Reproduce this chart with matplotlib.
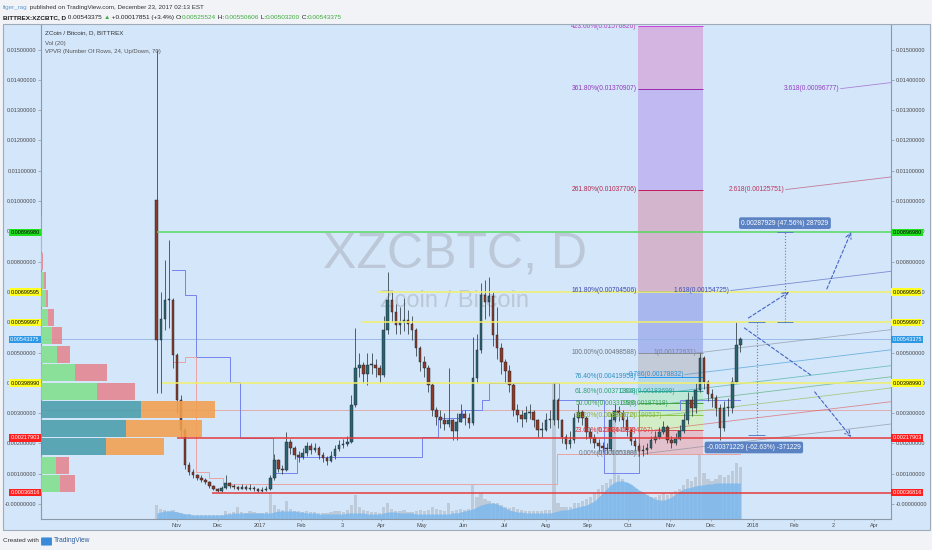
import numpy as np
import pandas as pd
import matplotlib
matplotlib.use('Agg')
import matplotlib.pyplot as plt
import matplotlib.dates as mdates
from matplotlib.patches import Rectangle, FancyBboxPatch

plt.rcParams['font.family'] = ['Liberation Sans', 'DejaVu Sans']

# ------------------------------------------------------------------ data
candle_start = '2016-10-17'
candle_step = '3D'
first_open_e5 = 1003
close_e5 = [
    541, 610, 673, 673, 492, 343, 244, 129, 106, 96,
    86, 79, 73, 59, 50, 43, 53, 69, 59, 56,
    50, 56, 50, 53, 50, 43, 46, 50, 86, 145,
    116, 112, 205, 185, 162, 155, 168, 191, 178, 185,
    162, 152, 142, 158, 182, 195, 198, 205, 327, 449,
    459, 429, 459, 459, 449, 426, 574, 673, 634, 591,
    601, 607, 594, 574, 515, 469, 449, 393, 310, 287,
    277, 264, 277, 241, 271, 297, 284, 267, 416, 508,
    690, 667, 686, 558, 515, 469, 439, 393, 310, 294,
    281, 300, 304, 277, 244, 244, 277, 277, 343, 277,
    221, 198, 211, 284, 304, 284, 238, 218, 201, 191,
    185, 182, 277, 307, 300, 277, 244, 208, 191, 175,
    178, 185, 211, 221, 238, 254, 211, 201, 215, 241,
    277, 343, 317, 376, 482, 403, 363, 350, 317, 251,
    317, 317, 403, 525, 543]
high_e5 = [
    1498, 700, 805, 871, 680, 500, 360, 250, 140, 115,
    100, 95, 85, 75, 62, 52, 58, 95, 72, 66,
    60, 65, 62, 65, 60, 52, 55, 58, 95, 165,
    150, 130, 238, 215, 190, 175, 185, 205, 200, 200,
    190, 170, 160, 175, 195, 210, 215, 225, 360, 581,
    500, 470, 500, 500, 480, 460, 620, 765, 700, 660,
    650, 680, 640, 620, 580, 520, 490, 460, 400, 320,
    310, 300, 449, 280, 300, 330, 310, 300, 550, 560,
    730, 740, 749, 700, 650, 530, 480, 460, 400, 330,
    310, 325, 330, 310, 280, 270, 300, 310, 403, 350,
    280, 230, 240, 300, 330, 310, 290, 250, 230, 215,
    205, 200, 300, 330, 325, 310, 290, 250, 220, 200,
    195, 200, 225, 240, 255, 275, 260, 225, 235, 260,
    300, 370, 355, 400, 500, 490, 410, 380, 360, 330,
    340, 350, 420, 600, 551]
low_e5 = [
    366, 366, 574, 580, 450, 300, 220, 115, 95, 85,
    78, 72, 66, 52, 45, 38, 40, 50, 52, 50,
    45, 48, 45, 46, 44, 38, 40, 42, 45, 80,
    105, 100, 110, 165, 150, 140, 150, 160, 165, 170,
    150, 140, 130, 140, 150, 175, 185, 190, 200, 320,
    420, 400, 393, 430, 420, 400, 420, 560, 600, 560,
    560, 570, 560, 540, 490, 440, 420, 370, 290, 260,
    250, 245, 255, 210, 210, 270, 260, 250, 260, 400,
    500, 610, 620, 520, 480, 430, 400, 370, 290, 270,
    255, 270, 280, 255, 220, 220, 240, 250, 260, 250,
    200, 180, 185, 200, 270, 260, 215, 200, 185, 175,
    170, 165, 175, 270, 275, 255, 225, 195, 175, 160,
    160, 165, 180, 200, 215, 230, 200, 185, 195, 210,
    235, 265, 290, 300, 370, 380, 340, 320, 290, 212,
    240, 290, 300, 400, 503]
vol = [
    14, 10, 9, 8, 9, 7, 6, 5, 5, 4,
    4, 4, 4, 4, 4, 4, 4, 8, 6, 7,
    12, 7, 6, 8, 7, 6, 6, 7, 26, 14,
    10, 9, 18, 10, 8, 8, 7, 8, 7, 7,
    6, 6, 6, 7, 8, 8, 7, 9, 14, 24,
    12, 9, 8, 7, 7, 6, 12, 16, 10, 8,
    8, 9, 7, 7, 8, 9, 8, 9, 12, 10,
    9, 8, 16, 8, 9, 10, 9, 10, 34, 22,
    26, 20, 18, 16, 16, 14, 12, 11, 12, 10,
    9, 8, 8, 8, 8, 8, 9, 9, 136, 16,
    12, 12, 12, 16, 16, 18, 20, 22, 26, 30,
    34, 36, 40, 109, 44, 40, 36, 34, 30, 28,
    26, 24, 22, 22, 24, 26, 24, 26, 28, 30,
    34, 40, 38, 42, 159, 46, 40, 38, 40, 44,
    42, 44, 48, 56, 52]
vol_ma = [
    6, 7, 8, 8, 8, 7, 6, 5, 5, 4,
    4, 4, 4, 4, 4, 4, 4, 5, 5, 6,
    6, 6, 6, 6, 6, 6, 6, 6, 6, 7,
    8, 8, 8, 8, 8, 7, 7, 6, 6, 6,
    5, 5, 5, 5, 5, 5, 5, 6, 6, 6,
    6, 6, 5, 5, 5, 5, 6, 7, 7, 7,
    6, 6, 6, 6, 5, 5, 5, 5, 5, 5,
    5, 5, 5, 6, 6, 7, 8, 9, 10, 12,
    14, 15, 16, 16, 15, 13, 11, 9, 8, 7,
    7, 6, 6, 6, 6, 6, 6, 6, 7, 8,
    9, 9, 10, 11, 12, 13, 14, 16, 18, 22,
    26, 30, 34, 37, 38, 38, 37, 35, 32, 29,
    27, 24, 22, 20, 19, 19, 20, 22, 25, 28,
    30, 31, 32, 33, 34, 34, 35, 35, 36, 36,
    36, 36, 36, 36, 36]

# volume profile (visible range), 24 rows
vp_row_start = 0.00037
vp_row_height = 0.00061
vp_up = [19, 15, 65, 85, 100, 56, 34, 16, 11, 7, 5, 3, 1, 0.5, 0.3, 0.2, 0.2, 0.2, 0.2, 0.2, 0.1, 0.1, 0.1, 0.1]
vp_down = [15, 13, 58, 76, 74, 38, 32, 13, 10, 6, 2, 2, 0.6, 0.3, 0.2, 0.2, 0.1, 0.1, 0.1, 0.1, 0.1, 0.1, 0.1, 0.1]
vp_value_area = [2, 3, 4]
poc_price = 0.003115

# horizontal rays
hl_prices = [0.0089698, 0.00699595, 0.00599997, 0.0039899, 0.00217903, 0.00036816]
hl_labels = ['0.00896980', '0.00699595', '0.00599997', '0.00398990', '0.00217903', '0.00036816']
hl_start = ['2016-10-17', '2017-03-29', '2017-03-18', '2016-10-21', '2016-11-01', '2016-11-27']
hl_kind = ['green', 'yellow', 'yellow', 'yellow', 'red', 'red']
last_price = 0.00543375
last_label = '0.00543375'

# price axis ticks
ytick_vals = [0.000, 0.001, 0.002, 0.003, 0.004, 0.005, 0.006, 0.007, 0.008,
              0.009, 0.010, 0.011, 0.012, 0.013, 0.014, 0.015]
ytick_labels = ['-0.00000000', '0.00100000', '0.00200000', '0.00300000', '0.00400000',
                '0.00500000', '0.00600000', '0.00700000', '0.00800000', '0.00900000',
                '0.01000000', '0.01100000', '0.01200000', '0.01300000', '0.01400000',
                '0.01500000']
# time axis ticks
xtick_dates = ['2016-11-01', '2016-12-01', '2017-01-01', '2017-02-01', '2017-03-03', '2017-04-01',
               '2017-05-01', '2017-06-01', '2017-07-01', '2017-08-01', '2017-09-01', '2017-10-01',
               '2017-11-01', '2017-12-01', '2018-01-01', '2018-02-01', '2018-03-02', '2018-04-01']
xtick_labels = ['Nov', 'Dec', '2017', 'Feb', '3', 'Apr', 'May', 'Jun', 'Jul', 'Aug', 'Sep', 'Oct',
                'Nov', 'Dec', '2018', 'Feb', '2', 'Apr']

# fib retracement
fib_start, fib_end = '2017-10-08', '2017-11-25'
fib_levels = [0, 0.236, 0.382, 0.5, 0.618, 0.764, 1, 1.618, 2.618, 3.618, 4.236]
fib_prices = [0.00165388, 0.00244023, 0.00292672, 0.00331988, 0.00371304, 0.00419953,
              0.00498588, 0.00704506, 0.01037706, 0.01370907, 0.01576826]
fib_texts = ['0.00%(0.00165388)', '23.60%(0.00244023)', '38.20%(0.00292672)', '50.00%(0.00331988)',
             '61.80%(0.00371304)', '76.40%(0.00419953)', '100.00%(0.00498588)', '161.80%(0.00704506)',
             '261.80%(0.01037706)', '361.80%(0.01370907)', '423.60%(0.01576826)']

# trend-based fib channel
ch_levels = [0, 0.236, 0.382, 0.5, 0.618, 0.786, 1, 1.618, 2.618, 3.618]
ch_texts = ['0(0.00201608)', '0.236(0.00194767)', '0.382(0.00190537)', '0.5(0.00187118)',
            '0.618(0.00183699)', '0.786(0.00178832)', '1(0.00172631)', '1.618(0.00154725)',
            '2.618(0.00125751)', '3.618(0.00096777)']

# step lines
blue_step_dates = ['2016-10-28', '2016-11-07', '2016-11-15', '2016-12-10', '2016-12-18', '2017-01-11',
                   '2017-01-29', '2017-05-01', '2017-05-13', '2017-05-31', '2017-06-15', '2017-06-20',
                   '2017-08-11', '2017-09-13', '2017-10-09', '2017-11-08', '2017-12-23']
blue_step_vals = [0.00772, 0.0069, 0.00485, 0.00403, 0.00218, 0.00102, 0.00155, 0.00221, 0.00284,
                  0.0031, 0.00343, 0.0040, 0.00343, 0.00102, 0.0031, 0.00343, 0.00343]
pink_step_dates = ['2016-10-29', '2016-11-07', '2016-11-15', '2016-11-25', '2016-12-05', '2017-08-09',
                   '2017-12-23']
pink_step_vals = [0.00469, 0.00485, 0.00106, 0.00086, 0.00066, 0.00165, 0.00165]

# measurements
m1_date, m1_from, m1_to, m1_text, m1_label_price = '2018-01-25', 0.00599997, 0.0089698, '0.00287929 (47.56%) 287929', 0.00927
m2_date, m2_from, m2_to, m2_text, m2_label_price = '2018-01-04', 0.00599997, 0.00228768, '-0.00371229 (-62.63%) -371229', 0.001865
m2_label_date = '2018-01-02'

# projection arrows (start date, start price, end date, end price, head)
proj = [('2017-12-29', 0.00614, '2018-01-28', 0.0070, True),
        ('2018-02-25', 0.0071, '2018-03-15', 0.00898, True),
        ('2017-12-26', 0.00581, '2018-02-13', 0.00426, False),
        ('2018-02-16', 0.0037, '2018-03-15', 0.00221, True)]

# ------------------------------------------------------------------ figure
W, H = 932, 550
BG = '#d4e6fa'
fig = plt.figure(figsize=(W / 100, H / 100), dpi=100)
fig.patch.set_facecolor('#f1f3f7')


def fr(x0, y0, x1, y1):
    return [x0 / W, 1 - y1 / H, (x1 - x0) / W, (y1 - y0) / H]


d2n = lambda s: mdates.date2num(pd.Timestamp(s))

panel = Rectangle((3 / W, 1 - 530 / H), 927 / W, 506 / H, transform=fig.transFigure,
                  fc=BG, ec='#9eabb9', lw=0.8, zorder=0)
fig.add_artist(panel)

axv = fig.add_axes(fr(41, 25, 891, 519), zorder=1)
axv.axis('off')
ax = fig.add_axes(fr(41, 25, 891, 519), zorder=2)
ax.patch.set_visible(False)

xmin, xmax = d2n('2016-07-23 08:00'), d2n('2018-04-13 12:00')
ymin, ymax = -0.000495, 0.015809

n = min(len(close_e5), len(high_e5), len(low_e5), len(vol), len(vol_ma))
dates = pd.date_range(candle_start, periods=n, freq=candle_step)
x = mdates.date2num(dates)
c = np.array(close_e5[:n]) * 1e-5
h = np.array(high_e5[:n]) * 1e-5
l = np.array(low_e5[:n]) * 1e-5
o = np.concatenate([[first_open_e5 * 1e-5], c[:-1]])

# volume
axv.bar(x, vol[:n], width=2.4, color='#aab4bf', alpha=0.55, linewidth=0, zorder=1)
axv.fill_between(x, 0, vol_ma[:n], color='#78b7ee', alpha=0.8, lw=0, zorder=2)
axv.set_xlim(xmin, xmax)
axv.set_ylim(0, 494)

# watermark
ax.text(0.487, 0.534, 'XZCBTC, D', transform=ax.transAxes, fontsize=36, color='#bcc8d7',
        ha='center', va='center', zorder=0.5)
ax.text(0.487, 0.441, 'Zcoin / Bitcoin', transform=ax.transAxes, fontsize=17, color='#bcc8d7',
        ha='center', va='center', zorder=0.5)

# fib retracement boxes
band_colors = ['#e2c1cc', '#d3eec7', '#c6edc9', '#bde7d6', '#b5d9ea', '#c3cad8',
               '#a9b7ef', '#d3b6cd', '#c1b9f1', '#d4b5e2']
fib_line_colors = ['#8a8f99', '#e0505a', '#8bc34a', '#43a047', '#26a69a', '#2196f3',
                   '#8a8f99', '#3f51b5', '#c2185b', '#9c27b0', '#d040e0']
fib_text_colors = ['#6c7580', '#e03030', '#8ab030', '#3ca050', '#30a070', '#2a8fc0',
                   '#6c7580', '#3848b0', '#b02a50', '#8e3ab8', '#b040c0']
fx0, fx1 = d2n(fib_start), d2n(fib_end)
for k in range(len(fib_prices) - 1):
    ax.add_patch(Rectangle((fx0, fib_prices[k]), fx1 - fx0, fib_prices[k + 1] - fib_prices[k],
                           fc=band_colors[k], ec='none', zorder=1))
for p, t, lc, tc in zip(fib_prices, fib_texts, fib_line_colors, fib_text_colors):
    ax.hlines(p, fx0, fx1, color=lc, lw=0.7, zorder=1.5)
    ax.text(fx0 - 0.8, p, t, ha='right', va='center', fontsize=4.8, color=tc, zorder=6, clip_on=True)

# trend-based fib channel
ch_colors = ['#7d8590', '#e04848', '#86b83a', '#3aa55a', '#2aa58e', '#2b8fcf', '#7d8590',
             '#3d4fb8', '#b8345a', '#9040c0']
ch_anchor = d2n('2017-10-11')
ch_days_per_level = 40.7
ch_slope = 5.35e-6
p0, p1 = fib_prices[0], fib_prices[6]
for L, t, col in zip(ch_levels, ch_texts, ch_colors):
    xs = ch_anchor + L * ch_days_per_level
    ps = p0 + L * (p1 - p0)
    ax.plot([xs, xmax], [ps, ps + ch_slope * (xmax - xs)], color=col, lw=0.6, alpha=0.6, zorder=3)
    ax.text(xs - 0.6, ps, t, ha='right', va='center', fontsize=4.8, color=col, zorder=6, clip_on=True)

# step lines
ax.step([d2n(s) for s in blue_step_dates], blue_step_vals, where='post', color='#7584ee', lw=0.7, zorder=3)
ax.step([d2n(s) for s in pink_step_dates], pink_step_vals, where='post', color='#eba2a2', lw=0.7, zorder=3)

# current price line + POC
ax.axhline(last_price, color='#8fb4e3', lw=0.6, zorder=2)
ax.axhline(poc_price, color='#e3a3a3', lw=0.6, zorder=2)

# candles
ax.vlines(x, l, h, color='#39474e', lw=0.6, zorder=4)
up = c >= o
bh = np.maximum(np.abs(c - o), 0.00002)
bb = np.minimum(o, c)
ax.bar(x[up], bh[up], bottom=bb[up], width=1.9, color='#2b6470', edgecolor='#1c2226', linewidth=0.3, zorder=4.2)
ax.bar(x[~up], bh[~up], bottom=bb[~up], width=1.9, color='#8c3b2b', edgecolor='#1c2226', linewidth=0.3, zorder=4.2)

# horizontal rays with axis labels
styles = {'green': ('#56d85e', '#1fe01f', 'black'),
          'yellow': ('#f2f06a', '#ffff20', 'black'),
          'red': ('#e63b3b', '#ff1f1f', 'white')}
ytr = ax.get_yaxis_transform()
for p, lab, s, kind in zip(hl_prices, hl_labels, hl_start, hl_kind):
    lc, bc, tc = styles[kind]
    ax.hlines(p, d2n(s), xmax, color=lc, lw=1.1, zorder=4.5)
    for xa, ha in ((-0.0015, 'right'), (1.0015, 'left')):
        ax.text(xa, p, lab, transform=ytr, ha=ha, va='center', fontsize=4.0, color=tc,
                bbox=dict(boxstyle='square,pad=0.2', fc=bc, ec='none'), zorder=10, clip_on=False)
for xa, ha in ((-0.0015, 'right'), (1.0015, 'left')):
    ax.text(xa, last_price, last_label, transform=ytr, ha=ha, va='center', fontsize=4.0, color='white',
            bbox=dict(boxstyle='square,pad=0.2', fc='#2d98e6', ec='none'), zorder=10, clip_on=False)

# volume profile
gap = 0.00005
for r in range(len(vp_up)):
    y0 = vp_row_start + r * vp_row_height + gap / 2
    hgt = vp_row_height - gap
    va_row = r in vp_value_area
    cu = '#4a9eac' if va_row else '#80e08c'
    cd = '#f2a04e' if va_row else '#e4868f'
    wu, wd = vp_up[r] / 850, vp_down[r] / 850
    ax.add_patch(Rectangle((0, y0), wu, hgt, transform=ytr, fc=cu, ec='none', alpha=0.88, zorder=5))
    ax.add_patch(Rectangle((wu, y0), wd, hgt, transform=ytr, fc=cd, ec='none', alpha=0.88, zorder=5))

# measurements
mc = '#5b82c2'
for dt, pa, pb in ((m1_date, m1_from, m1_to), (m2_date, m2_from, m2_to)):
    xd = d2n(dt)
    ax.vlines(xd, pa, pb, color=mc, lw=0.8, linestyles=':', zorder=6)
    ax.hlines([pa, pb], xd - 6, xd + 6, color=mc, lw=0.7, zorder=6)
ax.text(d2n(m1_date), m1_label_price, m1_text, ha='center', va='center', fontsize=4.8, color='white',
        bbox=dict(boxstyle='round,pad=0.35,rounding_size=0.3', fc=mc, ec='none'), zorder=7)
ax.text(d2n(m2_label_date), m2_label_price, m2_text, ha='center', va='center', fontsize=4.8, color='white',
        bbox=dict(boxstyle='round,pad=0.35,rounding_size=0.3', fc=mc, ec='none'), zorder=7)

# projection arrows
for d0, pa, d1, pb, head in proj:
    ax.annotate('', xy=(d2n(d1), pb), xytext=(d2n(d0), pa),
                arrowprops=dict(arrowstyle='->' if head else '-', color='#4565c5', lw=0.8,
                                linestyle=(0, (3, 2)), shrinkA=0, shrinkB=0), zorder=6)

# axes styling
ax.set_xlim(xmin, xmax)
ax.set_ylim(ymin, ymax)
for sp in ('left', 'right', 'bottom'):
    ax.spines[sp].set_color('#8a98a8')
    ax.spines[sp].set_linewidth(0.8)
ax.spines['top'].set_visible(False)
ax.set_yticks(ytick_vals)
ax.set_yticklabels(ytick_labels)
ax.tick_params(axis='y', left=True, right=True, labelleft=True, labelright=True, length=2, width=0.5,
               color='#8a98a8', labelsize=4.0, labelcolor='#4a4a4a', pad=1.2)
ax.set_xticks([d2n(s) for s in xtick_dates])
ax.set_xticklabels(xtick_labels)
ax.tick_params(axis='x', length=1.5, width=0.5, color='#8a98a8', labelsize=4.0, labelcolor='#4a4a4a', pad=1.5)

# ------------------------------------------------------------------ texts
hax = fig.add_axes([0, 0, 1, 1], zorder=5)
hax.axis('off')


def chain(xp, yp, pieces, size):
    t = None
    for s, col, wt in pieces:
        if t is None:
            t = hax.text(xp / W, 1 - yp / H, s, transform=hax.transAxes, fontsize=size, color=col,
                         fontweight=wt, va='bottom', ha='left')
        else:
            t = hax.annotate(s, xy=(1, 0), xycoords=t, xytext=(0, 0), textcoords='offset points',
                             fontsize=size, color=col, fontweight=wt, va='bottom', ha='left')


dark, grn = '#1e1e1e', '#3caa3c'
chain(3, 10, [('figer_rag', '#5b9bd5', 'normal'),
              (' published on TradingView.com, December 23, 2017 02:13 EST', '#333333', 'normal')], 4.5)
chain(3, 20, [('BITTREX:XZCBTC, D', dark, 'bold'), (' 0.00543375 ', dark, 'normal'),
              ('\u25b2', grn, 'normal'), (' +0.00017851 (+3.4%) ', dark, 'normal'),
              ('O:', dark, 'normal'), ('0.00525524', grn, 'normal'),
              (' H:', dark, 'normal'), ('0.00550606', grn, 'normal'),
              (' L:', dark, 'normal'), ('0.00503200', grn, 'normal'),
              (' C:', dark, 'normal'), ('0.00543375', grn, 'normal')], 4.6)

fig.text(45 / W, 1 - 33 / H, 'ZCoin / Bitcoin, D, BITTREX', fontsize=4.5, color='#333333', va='center', zorder=6)
fig.text(45 / W, 1 - 43 / H, 'Vol (20)', fontsize=4.3, color='#555555', va='center', zorder=6)
fig.text(45 / W, 1 - 52 / H, 'VPVR (Number Of Rows, 24, Up/Down, 70)', fontsize=4.3, color='#555555',
         va='center', zorder=6)

# footer
fig.text(3 / W, 1 - 541 / H, 'Created with', fontsize=4.6, color='#333333', va='center')
logo = FancyBboxPatch((42 / W, 1 - 545 / H), 9 / W, 7 / H, boxstyle='round,pad=0.001',
                      transform=fig.transFigure, fc='#3b8ad9', ec='none')
fig.add_artist(logo)
fig.text(54 / W, 1 - 541 / H, 'TradingView', fontsize=4.8, color='#2b5d9c', va='center')

fig.savefig('out.png', dpi=100, facecolor=fig.get_facecolor())
